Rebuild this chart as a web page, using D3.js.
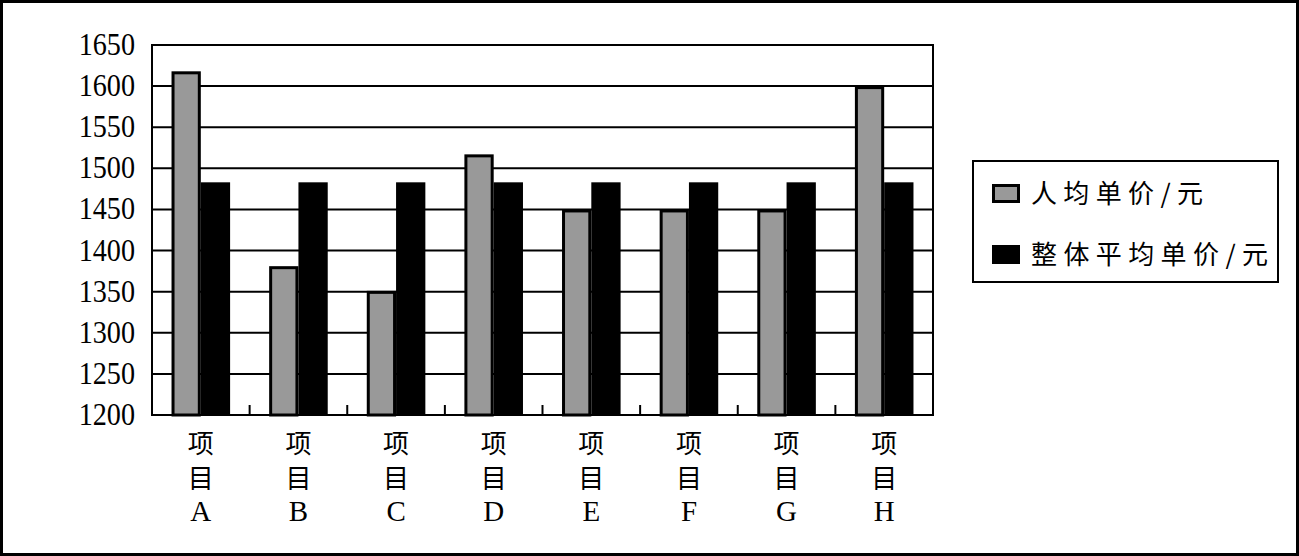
<!DOCTYPE html>
<html><head><meta charset="utf-8">
<script src="https://cdn.jsdelivr.net/npm/d3@7"></script>
<style>html,body{margin:0;padding:0;background:#fff;}svg{display:block;}</style>
</head><body>
<svg id="c" width="1299" height="556"></svg>
<script>
const categories = ["A","B","C","D","E","F","G","H"];
const perCapita = [1618, 1381, 1351, 1517, 1450, 1450, 1450, 1600];
const overallAvg = [1483, 1483, 1483, 1483, 1483, 1483, 1483, 1483];
const seriesNames = ["人均单价/元", "整体平均单价/元"];
const yTicks = [1200,1250,1300,1350,1400,1450,1500,1550,1600,1650];

const svg = d3.select("#c");
const L = 152, R = 933, T = 45, B = 415;
const serif = "'Liberation Serif','Times New Roman',serif";
const cjk = "'Noto Sans CJK SC','Liberation Serif',serif";

svg.append("rect").attr("x",1.5).attr("y",1.5).attr("width",1296).attr("height",553)
  .attr("fill","#fff").attr("stroke","#000").attr("stroke-width",3);

const x = d3.scaleBand().domain(categories).range([L,R]).paddingInner(0).paddingOuter(0);
const y = d3.scaleLinear().domain([1200,1650]).range([B,T]);

// gridlines
svg.append("g").selectAll("line").data(yTicks.filter(v=>v>1200 && v<1650)).join("line")
  .attr("x1",L).attr("x2",R).attr("y1",d=>y(d)).attr("y2",d=>y(d))
  .attr("stroke","#000").attr("stroke-width",2);

const bw = x.bandwidth();
const w = bw*0.3;
const off = (bw - 2*w)/2;

// black bars
svg.append("g").selectAll("rect").data(categories).join("rect")
  .attr("x",(d)=>x(d)+off+w).attr("width",w)
  .attr("y",(d,i)=>y(overallAvg[i])).attr("height",(d,i)=>B-y(overallAvg[i]))
  .attr("fill","#000");

// gray bars
svg.append("g").selectAll("rect").data(categories).join("rect")
  .attr("x",(d)=>x(d)+off+1.5).attr("width",w-3)
  .attr("y",(d,i)=>y(perCapita[i])+1.5).attr("height",(d,i)=>B-y(perCapita[i])-1.5)
  .attr("fill","#999999").attr("stroke","#000").attr("stroke-width",3);

// plot border
svg.append("rect").attr("x",L).attr("y",T).attr("width",R-L).attr("height",B-T)
  .attr("fill","none").attr("stroke","#000").attr("stroke-width",2);

// bottom ticks at category boundaries (inside)
svg.append("g").selectAll("line").data(categories.slice(1)).join("line")
  .attr("x1",d=>x(d)).attr("x2",d=>x(d)).attr("y1",B-10).attr("y2",B)
  .attr("stroke","#000").attr("stroke-width",2);

// y labels
svg.append("g").selectAll("text").data(yTicks).join("text")
  .attr("transform",d=>`translate(135,${y(d)+10}) scale(0.94,1.05)`)
  .attr("text-anchor","end").attr("font-family",serif).attr("font-size",30)
  .text(d=>d);

// x labels
const xl = svg.append("g").selectAll("g").data(categories).join("g")
  .attr("transform",d=>`translate(${x(d)+bw/2},0)`);
xl.append("text").attr("y",453).attr("text-anchor","middle").attr("font-family",cjk).attr("font-size",26).text("项");
xl.append("text").attr("y",488).attr("text-anchor","middle").attr("font-family",cjk).attr("font-size",26).text("目");
xl.append("text").attr("y",521).attr("text-anchor","middle").attr("font-family",serif).attr("font-size",29).text(d=>d);

// legend
svg.append("rect").attr("x",973).attr("y",161).attr("width",305).attr("height",121)
  .attr("fill","#fff").attr("stroke","#000").attr("stroke-width",2);
const lg = [
  {name:seriesNames[0], fill:"#999999", stroke:true, cy:194, len:172},
  {name:seriesNames[1], fill:"#000", stroke:false, cy:255, len:237}
];
lg.forEach(d=>{
  if(d.stroke){
    svg.append("rect").attr("x",993.5).attr("y",d.cy-8.5).attr("width",25).attr("height",16)
      .attr("fill",d.fill).attr("stroke","#000").attr("stroke-width",3);
  } else {
    svg.append("rect").attr("x",992).attr("y",d.cy-10).attr("width",28).attr("height",19).attr("fill","#000");
  }
  svg.append("text").attr("x",1031).attr("y",d.cy+9).attr("font-family",cjk).attr("font-size",26)
    .attr("textLength",d.len).attr("lengthAdjust","spacing").text(d.name);
});
</script>
</body></html>
